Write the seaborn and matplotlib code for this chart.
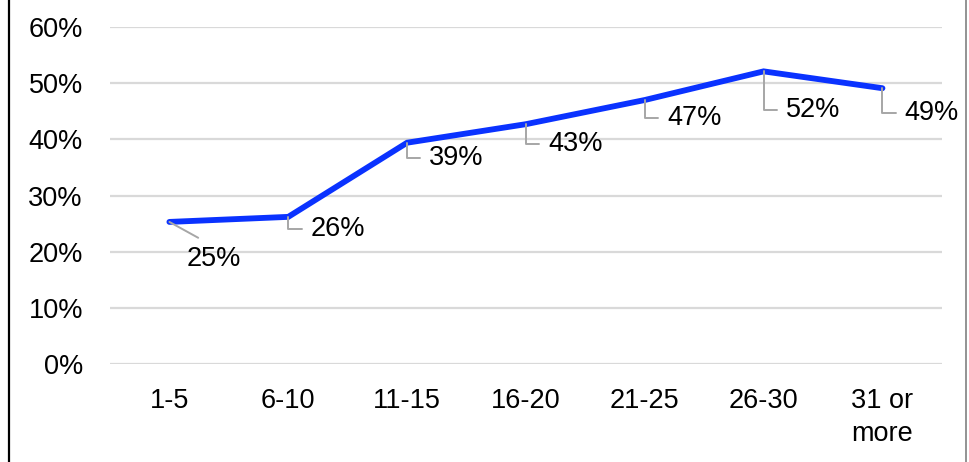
import matplotlib
matplotlib.use("Agg")
import matplotlib.pyplot as plt
import seaborn as sns
import pandas as pd
from matplotlib.ticker import PercentFormatter
from matplotlib.lines import Line2D

categories = ["1-5", "6-10", "11-15", "16-20", "21-25", "26-30", "31 or\nmore"]
values = [0.253, 0.262, 0.394, 0.427, 0.470, 0.521, 0.491]
labels = ["25%", "26%", "39%", "43%", "47%", "52%", "49%"]

df = pd.DataFrame({"cat": categories, "val": values})

sns.set_theme(style="white")
plt.rcParams["font.family"] = ["Liberation Sans", "DejaVu Sans"]

FS = 19.5

fig = plt.figure(figsize=(9.69, 4.62), dpi=100)
ax = fig.add_axes([0.1135, 0.212, 0.8585, 0.7296])

sns.lineplot(data=df, x="cat", y="val", sort=False, color="#0A32FF",
             linewidth=4.2, ax=ax, solid_capstyle="round", solid_joinstyle="miter")

ax.set_xlim(-0.5, len(categories) - 0.5)
ax.set_ylim(0, 0.6)
ax.set_yticks([0, 0.1, 0.2, 0.3, 0.4, 0.5, 0.6])
ax.yaxis.set_major_formatter(PercentFormatter(1.0, decimals=0))
ax.grid(axis="y", color="#D9D9D9", linewidth=1.6)
ax.grid(axis="x", visible=False)
ax.set_axisbelow(True)
for s in ax.spines.values():
    s.set_visible(False)
ax.tick_params(axis="both", length=0, labelsize=FS, colors="#000000")
ax.tick_params(axis="y", pad=19.5)
ax.tick_params(axis="x", pad=17.5)
ax.set_xlabel("")
ax.set_ylabel("")
for t in ax.get_xticklabels():
    t.set_linespacing(1.35)

# label offsets (points)
offsets = [(32, -27), (16, -8.5), (16, -11), (16, -14), (16, -13), (16, -28), (16, -18)]
for i, (v, lab) in enumerate(zip(values, labels)):
    dx, dy = offsets[i]
    if i == 0:
        ax.annotate(lab, xy=(i, v), xytext=(dx, dy), textcoords="offset points",
                    ha="center", va="center", fontsize=FS, color="#000000",
                    arrowprops=dict(arrowstyle="-", color="#A6A6A6", lw=1.4,
                                    shrinkA=8, shrinkB=0, relpos=(0.5, 1.0)))
    else:
        ax.annotate(lab, xy=(i, v), xytext=(dx, dy), textcoords="offset points",
                    ha="left", va="center", fontsize=FS, color="#000000",
                    arrowprops=dict(arrowstyle="-", color="#A6A6A6", lw=1.4,
                                    shrinkA=4, shrinkB=0, relpos=(0.0, 0.5),
                                    connectionstyle="angle,angleA=0,angleB=90,rad=0"))

# figure border lines
fig.add_artist(Line2D([8.5 / 969, 8.5 / 969], [0, 1], transform=fig.transFigure,
                      color="#000000", linewidth=1.6))
fig.add_artist(Line2D([966 / 969, 966 / 969], [0, 1], transform=fig.transFigure,
                      color="#808080", linewidth=1.2))

fig.savefig("out.png", dpi=100)
